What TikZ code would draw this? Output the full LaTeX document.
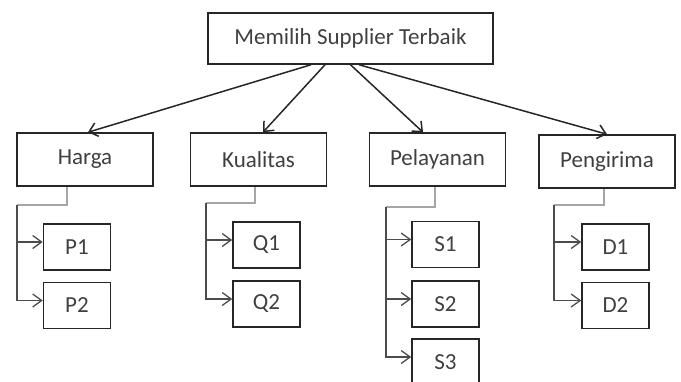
\documentclass[tikz,border=0pt]{standalone}
\usepackage{fontspec}
\setmainfont{Carlito}
\usetikzlibrary{arrows.meta}
\usetikzlibrary{positioning}

\begin{document}
\begin{tikzpicture}[x=1pt, y=-1pt,
	box/.style={draw=black!85, line width=1.5pt, inner sep=0pt, text=black!75,
		font=\fontsize{23}{28}\selectfont},
	crit/.style={box, minimum width=136pt, minimum height=53pt},
	alt/.style={box, minimum width=67pt, minimum height=46pt},
	down/.style={line width=1.5pt, black!85, -{Straight Barb[length=8pt,width=14pt]}},
	stem/.style={line width=1.2pt, black!35},
	sub/.style={line width=1.3pt, black!70, -{Straight Barb[length=9pt,width=13pt]}}]
			\useasboundingbox (0,0) rectangle (681,381);
			\clip (0,0) rectangle (681,381);
			% goal and criteria
			\node[box, minimum width=285pt, minimum height=51pt] (goal) at (350.5,38.5) {Memilih Supplier Terbaik};
			\node[crit] (c1) at (85,159.5) {Harga};
			\node[crit] (c2) at (258.5,159.5) {Kualitas};
			\node[crit] (c3) at (437.5,159.5) {Pelayanan};
			\node[crit] (c4) at (607,161.5) {Pengirima};
			\draw[down] ([xshift=-39.5pt]goal.south) to ([xshift=3pt]c1.north);
			\draw[down] ([xshift=-25.5pt]goal.south) to ([xshift=4.5pt]c2.north);
			\draw[down] (goal.south) to ([xshift=-14.5pt]c3.north);
			\draw[down] ([xshift=8.5pt]goal.south) to (c4.north);
			% alternatives
			\node[alt] (p1) at (77,247) {P1};
			\node[alt] (p2) at (77,305.5) {P2};
			\node[alt] (q1) at (266.5,245) {Q1};
			\node[alt] (q2) at (266.5,304) {Q2};
			\node[alt] (s1) at (445.5,244.5) {S1};
			\node[alt] (s2) at (445.5,304) {S2};
			\node[alt] (s3) at (445.5,362) {S3};
			\node[alt] (d1) at (615.5,247) {D1};
			\node[alt] (d2) at (615.5,305.5) {D2};
			\foreach \n in {p1,p2,q1,q2,s1,s2,s3,d1,d2}
				\coordinate (\n in) at ([yshift=5pt]\n.west);
			\coordinate (hb) at (17,205);
			\coordinate (kb) at (206,203);
			\coordinate (sb) at (386,207);
			\coordinate (db) at (554,205);
			\draw[stem] ([xshift=-18pt]c1.south) |- (hb);
			\draw[sub] (hb) |- (p2in);
			\draw[sub] (p1in -| hb) -- (p1in);
			\draw[stem] ([xshift=-3.5pt]c2.south) |- (kb);
			\draw[sub] (kb) |- (q2in);
			\draw[sub] (q1in -| kb) -- (q1in);
			\draw[stem] ([xshift=-2.5pt]c3.south) |- (sb);
			\draw[sub] (sb) |- (s3in);
			\draw[sub] (s1in -| sb) -- (s1in);
			\draw[sub] (s2in -| sb) -- (s2in);
			\draw[stem] ([xshift=-3pt]c4.south) |- (db);
			\draw[sub] (db) |- (d2in);
			\draw[sub] (d1in -| db) -- (d1in);
\end{tikzpicture}
\end{document}
